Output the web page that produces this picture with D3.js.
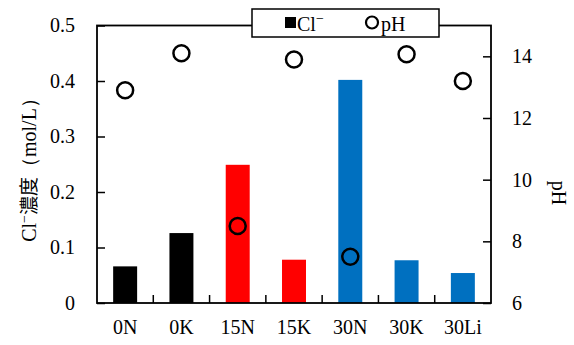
<!DOCTYPE html>
<html>
<head>
<meta charset="utf-8">
<script src="https://cdn.jsdelivr.net/npm/d3@7"></script>
<style>
  html, body { margin: 0; padding: 0; background: #fff; }
  svg { display: block; }
</style>
</head>
<body>
<svg id="chart" width="574" height="345"></svg>
<script>
// Samples, chloride concentration (mol/L), pH and bar colours
const categories = ["0N", "0K", "15N", "15K", "30N", "30K", "30Li"];
const chloride = [0.066, 0.126, 0.249, 0.078, 0.402, 0.077, 0.054];
const pH = [12.9, 14.1, 8.5, 13.9, 7.5, 14.07, 13.2];
const barColors = ["#000000", "#000000", "#FF0000", "#FF0000", "#0070C0", "#0070C0", "#0070C0"];
const leftTicks = [0, 0.1, 0.2, 0.3, 0.4, 0.5];
const rightTicks = [6, 8, 10, 12, 14];

const SERIF = "'Liberation Serif', 'DejaVu Serif', 'Times New Roman', Times, serif";
const svg = d3.select("#chart").style("font-family", SERIF);
const m = { left: 97, right: 491, top: 25.5, bottom: 303 };

const x = d3.scaleBand().domain(categories).range([m.left, m.right]).paddingInner(0.574).paddingOuter(0.287);
const xb = d3.scaleBand().domain(categories).range([m.left, m.right]);
const yL = d3.scaleLinear().domain([0, 0.5]).range([m.bottom, m.top]);
const yR = d3.scaleLinear().domain([6, 15]).range([m.bottom, m.top]);

// Bars
svg.append("g").selectAll("rect").data(categories).join("rect")
  .attr("x", d => x(d))
  .attr("width", x.bandwidth())
  .attr("y", (d, i) => yL(chloride[i]))
  .attr("height", (d, i) => m.bottom - yL(chloride[i]))
  .attr("fill", (d, i) => barColors[i]);

// Plot frame
svg.append("rect").attr("x", m.left).attr("y", m.top)
  .attr("width", m.right - m.left).attr("height", m.bottom - m.top)
  .attr("fill", "none").attr("stroke", "#000").attr("stroke-width", 1.8);

// Left axis (inward ticks)
const axL = svg.append("g").attr("transform", `translate(${m.left},0)`)
  .call(d3.axisLeft(yL).tickValues(leftTicks).tickSizeInner(-8).tickSizeOuter(0).tickPadding(22)
    .tickFormat(d => d === 0 ? "0" : d3.format(".1f")(d)));
axL.attr("font-family", null).attr("font-size", null);
axL.select(".domain").remove();
axL.selectAll("line").attr("stroke", "#000").attr("stroke-width", 1.5);
axL.selectAll("text").style("font-family", SERIF).style("font-size", "20px").attr("fill", "#000");

// Right axis (inward ticks)
const axR = svg.append("g").attr("transform", `translate(${m.right},0)`)
  .call(d3.axisRight(yR).tickValues(rightTicks).tickSizeInner(-8).tickSizeOuter(0).tickPadding(21));
axR.attr("font-family", null).attr("font-size", null);
axR.select(".domain").remove();
axR.selectAll("line").attr("stroke", "#000").attr("stroke-width", 1.5);
axR.selectAll("text").style("font-family", SERIF).style("font-size", "20px").attr("fill", "#000");

// Bottom axis: ticks between categories, labels centred
const bounds = categories.slice(1).map(c => xb(c));
svg.append("g").selectAll("line").data(bounds).join("line")
  .attr("x1", d => d).attr("x2", d => d)
  .attr("y1", m.bottom).attr("y2", m.bottom - 8)
  .attr("stroke", "#000").attr("stroke-width", 1.5);
svg.append("g").selectAll("text").data(categories).join("text")
  .attr("x", d => xb(d) + xb.bandwidth() / 2)
  .attr("y", 334)
  .attr("text-anchor", "middle")
  .style("font-size", "20px")
  .text(d => d);

// pH markers
svg.append("g").selectAll("circle").data(categories).join("circle")
  .attr("cx", d => xb(d) + xb.bandwidth() / 2)
  .attr("cy", (d, i) => yR(pH[i]))
  .attr("r", 8)
  .attr("fill", "none")
  .attr("stroke", "#000")
  .attr("stroke-width", 2.5);

// Left axis title
const tl = svg.append("text")
  .attr("transform", "translate(36,165) rotate(-90)")
  .attr("text-anchor", "middle")
  .style("font-size", "20px");
tl.append("tspan").text("Cl");
tl.append("tspan").attr("dy", -7).style("font-size", "14px").text("−");
tl.append("tspan").attr("dy", 7).style("font-family", "'Noto Sans CJK JP'").style("font-size", "19px").text("濃度");
tl.append("tspan").text("（mol/L）");

// Right axis title
svg.append("text")
  .attr("transform", "translate(552,193) rotate(90)")
  .attr("text-anchor", "middle")
  .style("font-size", "20px")
  .text("pH");

// Legend
const lg = svg.append("g");
lg.append("rect").attr("x", 252).attr("y", 9).attr("width", 187).attr("height", 28)
  .attr("fill", "#fff").attr("stroke", "#000").attr("stroke-width", 1.5);
lg.append("rect").attr("x", 285).attr("y", 17).attr("width", 11).attr("height", 11).attr("fill", "#000");
const lt = lg.append("text").attr("x", 297).attr("y", 31).style("font-size", "20px");
lt.append("tspan").text("Cl");
lt.append("tspan").attr("dy", -8).style("font-size", "14px").text("−");
lg.append("circle").attr("cx", 372).attr("cy", 22.5).attr("r", 6).attr("fill", "none")
  .attr("stroke", "#000").attr("stroke-width", 2.2);
lg.append("text").attr("x", 381).attr("y", 31).style("font-size", "20px").text("pH");
</script>
</body>
</html>
